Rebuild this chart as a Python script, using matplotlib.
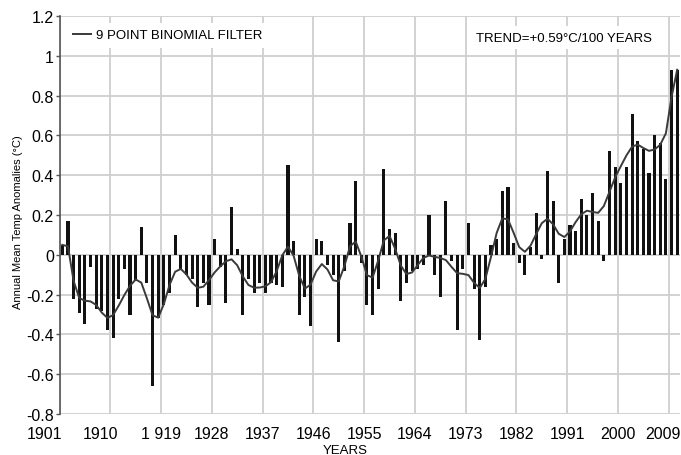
import numpy as np
import matplotlib
matplotlib.use("Agg")
import matplotlib.pyplot as plt
from matplotlib.transforms import ScaledTranslation
from math import comb

# ---- data ----
years = list(range(1901, 2011))
anomalies = [
    0.05, 0.17, -0.22, -0.29, -0.35, -0.06, -0.27, -0.28, -0.38, -0.42,   # 1901-1910
    -0.22, -0.07, -0.30, -0.13, 0.14, -0.14, -0.66, -0.32, -0.25, -0.19,  # 1911-1920
    0.10, -0.07, -0.10, -0.12, -0.26, -0.14, -0.25, 0.08, -0.06, -0.24,   # 1921-1930
    0.24, 0.03, -0.30, -0.12, -0.19, -0.14, -0.19, -0.14, -0.15, -0.16,   # 1931-1940
    0.45, 0.07, -0.30, -0.21, -0.36, 0.08, 0.07, -0.05, -0.10, -0.44,     # 1941-1950
    -0.08, 0.16, 0.37, -0.04, -0.25, -0.30, -0.17, 0.43, 0.13, 0.11,      # 1951-1960
    -0.23, -0.14, -0.08, -0.07, -0.05, 0.20, -0.10, -0.21, 0.27, -0.03,   # 1961-1970
    -0.38, -0.07, 0.16, -0.17, -0.43, -0.16, 0.05, 0.08, 0.32, 0.34,      # 1971-1980
    0.06, -0.04, -0.10, 0.04, 0.21, -0.02, 0.42, 0.27, -0.14, 0.08,       # 1981-1990
    0.15, 0.12, 0.28, 0.20, 0.31, 0.17, -0.03, 0.52, 0.44, 0.36,          # 1991-2000
    0.44, 0.71, 0.57, 0.53, 0.41, 0.60, 0.56, 0.38, 0.93, 0.93,           # 2001-2010
]
tick_years = [1901, 1910, 1919, 1928, 1937, 1946, 1955, 1964, 1973, 1982, 1991, 2000, 2009]
tick_labels = ["1901", "1910", "1 919", "1928", "1937", "1946", "1955", "1964",
               "1973", "1982", "1991", "2000", "2009"]
y_ticks = [-0.8, -0.6, -0.4, -0.2, 0, 0.2, 0.4, 0.6, 0.8, 1, 1.2]
legend_label = "9 POINT BINOMIAL FILTER"
trend_text = "TREND=+0.59°C/100 YEARS"
y_label = "Annual Mean Temp Anomalies (°C)"
x_label = "YEARS"

# ---- 9 point binomial filter (window shrinks symmetrically at the ends) ----
vals = np.array(anomalies, dtype=float)
n = len(vals)
smooth = np.empty(n)
for i in range(n):
    h = min(4, i, n - 1 - i)
    w = np.array([comb(2 * h, k) for k in range(2 * h + 1)], dtype=float)
    smooth[i] = np.sum(w * vals[i - h:i + h + 1]) / w.sum()

plt.rcParams['font.family'] = ['Liberation Sans', 'DejaVu Sans']

fig = plt.figure(figsize=(6.81, 4.56), dpi=100)
ax = fig.add_axes([59.5 / 681, 1 - 415 / 456, (680 - 59.5) / 681, (415 - 17) / 456])

xs = np.array(years) + 0.5
ax.bar(xs, vals, width=0.55, color="#111111", zorder=3)
ax.plot(xs, smooth, color="#3a3a3a", lw=1.4, zorder=4, label=legend_label)

ax.set_xlim(1901, 2011)
ax.set_ylim(-0.8, 1.2)
ax.set_xticks(tick_years)
ax.set_xticklabels(tick_labels)
ax.set_yticks(y_ticks)
ax.set_yticklabels(["{:g}".format(v) for v in y_ticks])

ax.grid(True, color="#cfcfcf", lw=1.3, zorder=0)
ax.set_axisbelow(True)
for s in ["top", "right", "bottom"]:
    ax.spines[s].set_visible(False)
ax.spines["left"].set_color("#555555")
ax.spines["left"].set_linewidth(1.2)
ax.tick_params(axis="y", length=3, width=1, color="#555555", labelsize=11.5, pad=1)
ax.tick_params(axis="x", length=0, labelsize=11.5, pad=9)

# nudge some year labels like the reference (and keep the last one inside)
xt = ax.get_xticklabels()
for lbl, dx in [(xt[0], -15), (xt[1], -10), (xt[-1], -6)]:
    lbl.set_transform(lbl.get_transform() + ScaledTranslation(dx / 100, 0, fig.dpi_scale_trans))

leg = ax.legend(loc="upper left", bbox_to_anchor=(0.0, 1.0), fontsize=9.5,
                handlelength=1.4, handletextpad=0.4, borderpad=0.5,
                frameon=True, framealpha=1, facecolor="white", edgecolor="none")
leg.get_frame().set_boxstyle("square", pad=0)

ax.text(0.955, 0.945, trend_text, transform=ax.transAxes, ha="right", va="center",
        fontsize=9.5, zorder=5,
        bbox=dict(facecolor="white", edgecolor="none", pad=4))

fig.text(18 / 681, 1 - 222 / 456, y_label, rotation=90, ha="center", va="center", fontsize=8)
fig.text(345 / 681, 1 - 451 / 456, x_label, ha="center", va="center", fontsize=9.5)

fig.savefig("out.png", dpi=100)
